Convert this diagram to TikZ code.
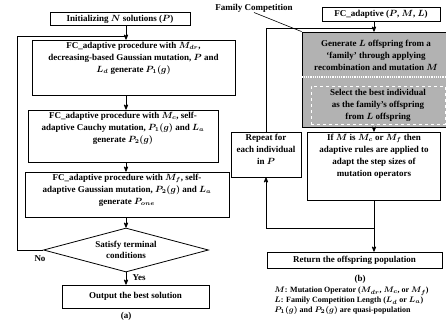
\documentclass[tikz,border=0pt]{standalone}
\usepackage{fontspec}
\setmainfont{Liberation Serif}
\usetikzlibrary{arrows,positioning,shapes.geometric,calc}
\tikzset{
    %Define standard arrow tip
    >=stealth',
    %Define style for boxes
    procbox/.style={
           rectangle,
           draw=black, line width=0.8pt,
           font=\fontsize{9}{12}\selectfont\bfseries\boldmath,
           align=center},
    decide/.style={
           diamond, aspect=3.75,
           draw=black, line width=0.8pt,
           minimum width=165pt, minimum height=44pt,
           inner sep=0pt,
           font=\fontsize{9}{11}\selectfont\bfseries\boldmath,
           align=center},
    shadebox/.style={
           rectangle,
           fill=black!30,
           draw=black, line width=0.8pt},
    inshade/.style={
           font=\fontsize{9}{12}\selectfont\bfseries\boldmath,
           align=center, inner sep=1pt},
    % Define style for free texts
    lbl/.style={
           font=\fontsize{9}{11}\selectfont\bfseries,
           inner sep=0pt},
    legend/.style={
           font=\fontsize{8}{10}\selectfont\bfseries\boldmath,
           align=left, inner sep=0pt}
}
\begin{document}
\begin{tikzpicture}[x=1pt,y=-1pt,line width=0.8pt]
\useasboundingbox (0,0) rectangle (446,332);

 %nodes of (a)
\node[procbox, minimum width=140pt, minimum height=13pt, inner ysep=0pt] (init) at (120,19) {Initializing $N$ solutions ($P$)};
\node[procbox, inner sep=2pt] (gauss) at (133.5,67.5) {\parbox[c][51pt][t]{199pt}{\centering FC\_adaptive procedure with $M_{dr}$,\\decreasing-based Gaussian mutation, $P$ and\\$L_d$ generate $P_1(g)$}};
\node[procbox, inner sep=2pt] (cauchy) at (123,136) {\parbox[c][48pt][t]{186pt}{\centering FC\_adaptive procedure with $M_c$, self-\\adaptive Cauchy mutation, $P_1(g)$ and $L_a$\\generate $P_2(g)$}};
\node[procbox, inner sep=2pt] (gauss2) at (127,194.5) {\parbox[c][41pt][t]{200pt}{\centering FC\_adaptive procedure with $M_f$, self-\\adaptive Gaussian mutation, $P_2(g)$ and $L_a$\\generate $P_{one}$}};
\node[decide] (dia) at (126,250) {Satisfy terminal\\conditions};
\node[procbox, minimum width=147pt, minimum height=23pt] (out) at (135.5,296.5) {Output the best solution};
\node[lbl] (capa) at (126,316) {(a)};
\node[lbl] (no) at (40,259) {No};
\node[lbl] (yes) at (139,278) {Yes};

 %nodes of (b)
\node[lbl] (famcomp) at (254,8) {Family Competition};
\node[procbox, minimum width=118pt, minimum height=14pt, inner ysep=0pt] (fcbox) at (381,14) {FC\_adaptive ($P$, $M$, $L$)};
\node[shadebox, minimum width=144pt, minimum height=95pt] (shade) at (374,79.5) {};
\node[inshade] (gen) at (376,55) {Generate $L$ offspring from a\\`family' through applying\\recombination and mutation $M$};
\node[inshade, draw=white, dashed, minimum width=134pt, minimum height=38pt] (sel) at (378,105) {Select the best individual\\as the family's offspring\\from $L$ offspring};
\node[procbox, inner sep=2pt] (rep) at (266,154.5) {\parbox[c][41pt][t]{66pt}{\centering Repeat for\\each individual\\in $P$}};
\node[procbox, inner sep=2pt] (adapt) at (374,166) {\parbox[c][64pt][t]{129pt}{\centering If $M$ is $M_c$ or $M_f$ then\\adaptive rules are applied to\\adapt the step sizes of\\mutation operators}};
\node[procbox, minimum width=175pt, minimum height=16pt, inner ysep=0pt] (ret) at (354.5,260) {Return the offspring population};
\node[lbl] (capb) at (360,279) {(b)};
\node[legend, anchor=north west] (legend) at (274,287) {$M$: Mutation Operator ($M_{dr}$, $M_c$, or $M_f$)\\$L$: Family Competition Length ($L_d$ or $L_a$)\\$P_1(g)$ and $P_2(g)$ are quasi-population};

 %connectors of (a)
\coordinate (axis) at (126,0);
\coordinate (topjoin) at (126,36);
\coordinate (leftx) at (17,0);
\draw[->] (init.south -| axis) -- (gauss.north -| axis);
\draw (dia.west) -| (leftx |- topjoin) -- (topjoin);
\draw[->] (gauss.south -| axis) -- (cauchy.north -| axis);
\draw[->] (cauchy.south -| axis) -- (gauss2.north -| axis);
\draw[->] (gauss2.south -| axis) -- (dia.north);
\draw[->] (dia.south) -- (dia.south |- out.north);

 %connectors of (b)
\coordinate (loopjoin) at (374,28);
\coordinate (join) at (374,228);
\draw[line width=0.6pt] (famcomp.south) -- (shade.north west);
\draw[->] (fcbox.south -| shade.north) -- (shade.north);
\draw (rep.north) |- (loopjoin);
\draw[white, densely dotted, line width=1.2pt] (shade.west |- 0,77) -- (shade.east |- 0,77);
\draw[->] (shade.south) -- (shade.south |- adapt.north);
\draw (adapt.south) -- (join);
\draw[->] (join) -| (rep.south);
\draw[->] (join) -- (join |- ret.north);
\end{tikzpicture}
\end{document}
